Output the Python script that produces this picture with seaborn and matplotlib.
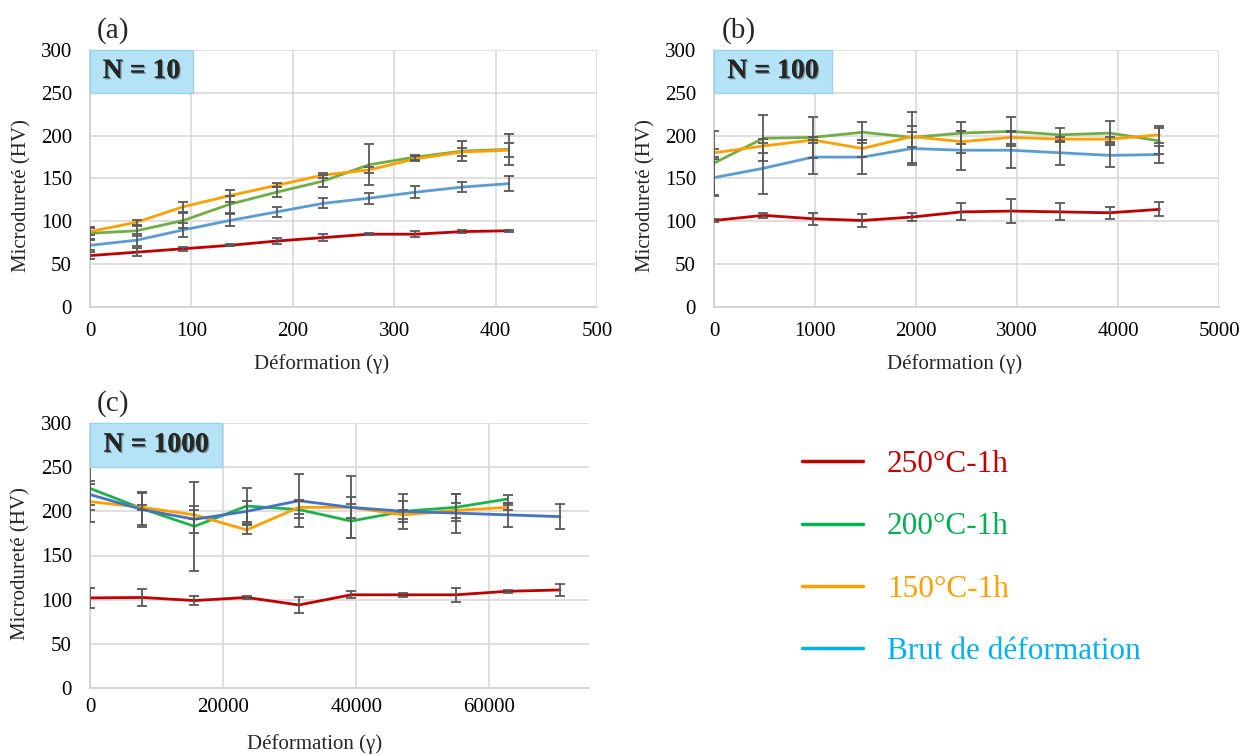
import numpy as np
import pandas as pd
import matplotlib
matplotlib.use("Agg")
import matplotlib.pyplot as plt
import matplotlib.patheffects as pe
from matplotlib.lines import Line2D
from matplotlib.patches import Rectangle
import seaborn as sns

# ---- data ----
labels = ["250°C-1h", "200°C-1h", "150°C-1h", "Brut de déformation"]

# (a) N = 10
x_a = [0, 46, 92, 138, 184, 230, 275, 321, 367, 413]
red_a = [60, 64, 68, 72, 77, 81, 85, 85, 88, 89]
red_a_err = [4, 5, 2.5, 1, 4, 4.5, 1.5, 3.5, 1.5, 1]
green_a = [86, 89, 101, 120, 134, 147, 166, 175, 182, 184]
green_a_err = [7, 6, 9, 10, 6, 7, 24, 3, 12, 18]
orange_a = [88, 99, 117, 130, 142, 154, 160, 173, 181, 183]
orange_a_err = [4, 3, 6, 7, 2.5, 3, 4, 3, 5, 8]
blue_a = [72, 78, 90, 101, 111, 121, 127, 134, 140, 144]
blue_a_err = [6, 7, 8, 7, 6, 6, 6.5, 7, 6, 9]

# (b) N = 100
x_b = [0, 490, 980, 1470, 1960, 2450, 2940, 3430, 3920, 4410]
red_b = [101, 107, 103, 101, 105, 111, 112, 111, 110, 114]
red_b_err = [2, 3, 7, 8, 5, 10, 14, 10, 7, 8]
green_b = [168, 197, 198, 204, 198, 203, 205, 201, 203, 194]
green_b_err = [37, 27, 24, 12, 30, 13, 17, 8.5, 14, 15]
orange_b = [180, 188, 195, 185, 199, 193, 198, 196, 196, 201]
orange_b_err = [5, 8, 3, 10, 12, 13, 8, 3, 3, 10]
blue_b = [151, 162, 175, 175, 185, 183, 183, 180, 177, 178]
blue_b_err = [22, 30, 20, 20, 19, 23, 21, 14, 13.5, 10]

# (c) N = 1000
x_c = [0, 7850, 15700, 23550, 31400, 39250, 47100, 54950, 62800, 70650]
red_c = [102, 102.5, 99, 102.5, 94, 105.5, 105.5, 105.5, 109.5, 111]
red_c_err = [11, 10, 5, 1.5, 9, 4, 2.5, 8, 1.5, 7]
green_c = [226, 203, 183, 206, 202, 189, 200, 204.5, 214]
green_c_err = [25, 18, 50, 20, 10, 19, 12, 15, 5]
orange_c = [211, 204.5, 196, 179, 204.5, 204.5, 196, 201, 204.5]
orange_c_err = [23, 3, 5, 5, 8, 12, 5, 8, 3]
blue_c = [219, 202, 191, 200, 212, 204.5, 200, 198, 196, 194]
blue_c_err = [12, 20, 15, 12, 30, 35, 20, 22, 14, 14]

# ---- style ----
sns.set_theme(style="white")
plt.rcParams['font.family'] = ['Liberation Serif', 'DejaVu Serif']
plt.rcParams['font.size'] = 15

fig = plt.figure(figsize=(12.42, 7.55), dpi=100)
W, H = 1242, 755


def px_axes(left, top, right, bottom):
    return fig.add_axes([left / W, 1 - bottom / H, (right - left) / W, (bottom - top) / H])


ax_a = px_axes(90, 50, 597, 307)
ax_b = px_axes(714, 50, 1219, 307)
ax_c = px_axes(90, 423, 589, 688)

panels = [
    (ax_a, "(a)", "N = 10", x_a,
     [(red_a, red_a_err, "#c00000"), (green_a, green_a_err, "#70ad47"),
      (orange_a, orange_a_err, "#ffa000"), (blue_a, blue_a_err, "#5b9bd5")],
     (0, 500), [0, 100, 200, 300, 400, 500], 0.203, 0.456, 0.045),
    (ax_b, "(b)", "N = 100", x_b,
     [(red_b, red_b_err, "#c00000"), (green_b, green_b_err, "#70ad47"),
      (orange_b, orange_b_err, "#ffa000"), (blue_b, blue_b_err, "#5b9bd5")],
     (0, 5000), [0, 1000, 2000, 3000, 4000, 5000], 0.233, 0.477, 0.05),
    (ax_c, "(c)", "N = 1000", x_c,
     [(red_c, red_c_err, "#c00000"), (green_c, green_c_err, "#1db34a"),
      (orange_c, orange_c_err, "#ffa000"), (blue_c, blue_c_err, "#4472c4")],
     (0, 75000), [0, 20000, 40000, 60000], 0.265, 0.451, 0.046),
]

for ax, tag, ntxt, xs, series, xlim, xticks, boxw, xlab_x, tag_x in panels:
    for ys, err, col in series:
        xx = xs[:len(ys)]
        sns.lineplot(x=xx, y=ys, ax=ax, color=col, lw=2, zorder=2)
        ax.errorbar(xx, ys, yerr=err, fmt="none", ecolor="#595959",
                    elinewidth=1.3, capsize=3.5, capthick=1.3, zorder=3)
    ax.set_xlim(*xlim)
    ax.set_ylim(0, 300)
    ax.set_xticks(xticks)
    ax.set_yticks(range(0, 301, 50))
    ax.grid(True, color="#d9d9d9", lw=1.2)
    ax.set_axisbelow(True)
    for s in ["top", "right"]:
        ax.spines[s].set_visible(False)
    for s in ["left", "bottom"]:
        ax.spines[s].set_color("#d0d0d0")
        ax.spines[s].set_linewidth(1.2)
    ax.tick_params(axis="both", length=0, labelsize=15, colors="black")
    ax.tick_params(axis="y", pad=13)
    ax.tick_params(axis="x", pad=11)
    ax.set_xlabel("Déformation (γ)", fontsize=15)
    ax.set_ylabel("Microdureté (HV)", fontsize=15)
    ax.xaxis.set_label_coords(xlab_x, -0.185)
    ax.yaxis.set_label_coords(-59 / (ax.get_position().width * W), 0.435)
    ax.add_patch(Rectangle((0, 250 / 300), boxw, 50 / 300, transform=ax.transAxes,
                           facecolor="#b4e3f5", edgecolor="#9dd3ea", lw=1,
                           zorder=4, clip_on=False))
    ax.text(boxw / 2, 275 / 300, ntxt, transform=ax.transAxes, ha="center",
            va="center", fontsize=20, fontweight="bold", zorder=5,
            path_effects=[pe.withSimplePatchShadow(offset=(1, -1), alpha=0.4),
                          pe.Normal()])
    ax.text(tag_x, 1.075, tag, transform=ax.transAxes,
            ha="center", va="center", fontsize=21)

ax_c.tick_params(axis="x", length=4, color="#d0d0d0", width=1.2, pad=3)
ax_c.xaxis.set_label_coords(0.451, -0.175)
ax_c.yaxis.set_label_coords(-60 / 499, 0.47)

# ---- legend ----
leg_cols = ["#c00000", "#00b050", "#ffa000", "#00b0f0"]
handles = [Line2D([0], [0], color=c, lw=2.5) for c in leg_cols]
fig.legend(handles, labels, loc="upper left", bbox_to_anchor=(802 / W, 1 - 450 / H),
           frameon=False, fontsize=22.5, handlelength=1.95, handletextpad=0.77,
           labelspacing=1.07, borderpad=0, borderaxespad=0, labelcolor=leg_cols)

fig.savefig("out.png", dpi=100)
